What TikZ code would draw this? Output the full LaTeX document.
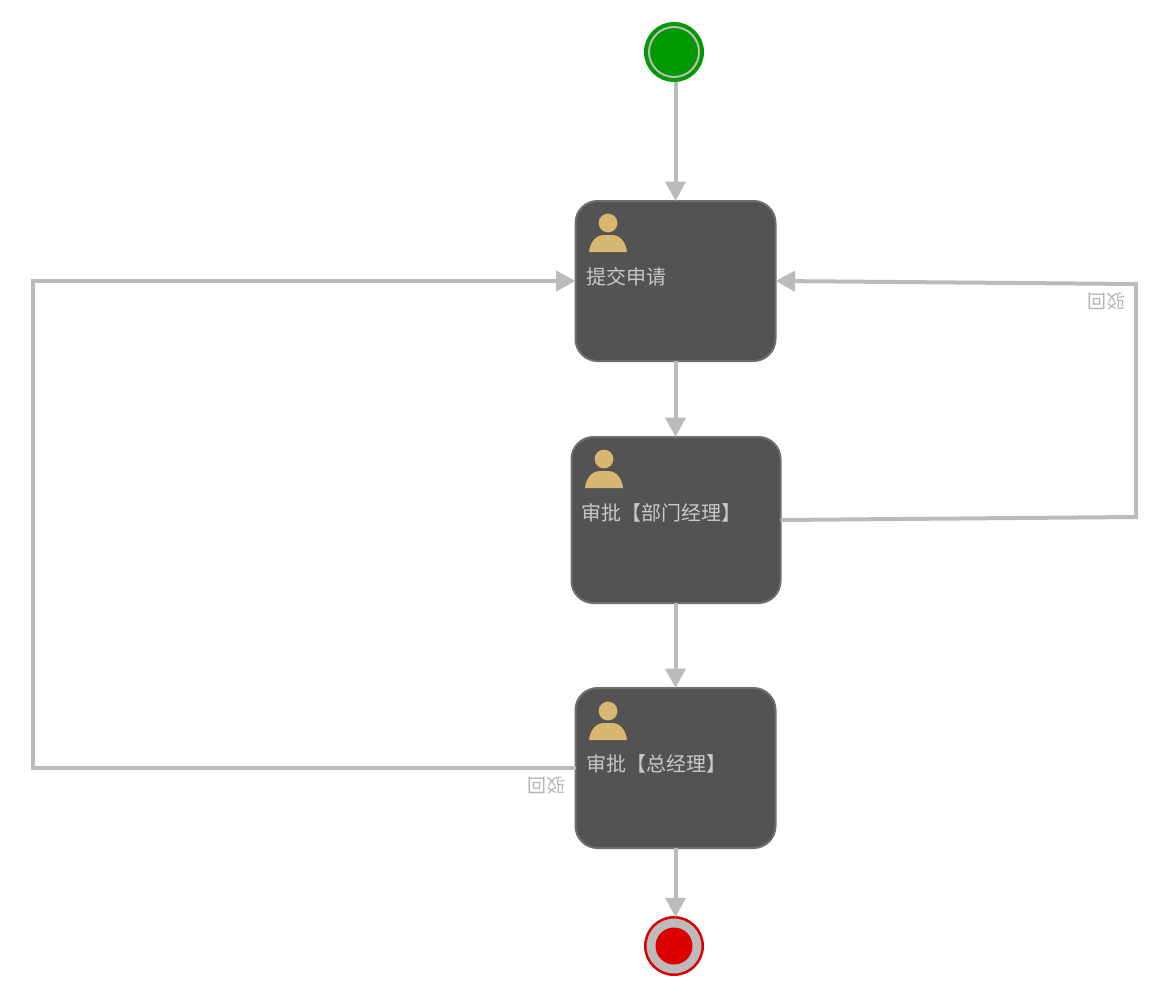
\documentclass[tikz,border=0pt]{standalone}
\usepackage{fontspec}
\usetikzlibrary{arrows.meta,calc}
\newfontfamily\cjk{Noto Sans CJK SC}
\definecolor{flow}{HTML}{BBBBBB}
\definecolor{taskfill}{HTML}{535353}
\definecolor{taskline}{HTML}{6E6E6E}
\definecolor{usergold}{HTML}{D8B870}
\definecolor{labeltext}{HTML}{C8C8C8}
\definecolor{edgelabel}{HTML}{B4B4B4}
\definecolor{startgreen}{HTML}{009900}
\definecolor{endred}{HTML}{DD0000}
\tikzset{
  x=1pt,y=-1pt,
  taskbox/.style={draw=taskline,fill=taskfill,line width=2pt,rounded corners=22pt,inner sep=0pt,outer sep=0pt,minimum width=#1},
  tasktext/.style={anchor=west,text=labeltext,font=\cjk\fontsize{20}{22}\selectfont,inner sep=0pt},
  backtext/.style={text=edgelabel,font=\cjk\fontsize{19}{22}\selectfont,inner sep=0pt,rotate=180},
  conn/.style={draw=flow,line width=4pt},
  connarrow/.style={conn,-{Triangle[length=19.5pt,width=20pt]},shorten >=0pt},
  person/.pic={
    \fill[usergold] (0,-29) circle[radius=9.4];
    \fill[usergold] (-19,0) .. controls (-18,-10) and (-12,-17) .. (-4,-17) -- (4,-17) .. controls (12,-17) and (18,-10) .. (19,0) -- cycle;
  }
}
\begin{document}
\begin{tikzpicture}
\useasboundingbox[fill=white] (0,0) rectangle (1164,998);

\node[taskbox=200pt,minimum height=160pt] (t1) at (675.5,281) {};
\node[taskbox=209pt,minimum height=166pt] (t2) at (676,520) {};
\node[taskbox=200pt,minimum height=160pt] (t3) at (675.5,768) {};

\node[circle,draw=startgreen,fill=startgreen,line width=3.5pt,minimum size=56.5pt,inner sep=0pt] (start) at (674,52) {};
\draw[flow,line width=2pt] (674,52) circle[radius=25];
\node[circle,draw=endred,fill=flow,line width=2.5pt,minimum size=57.5pt,inner sep=0pt,outer sep=0pt] (end) at (674,946) {};
\fill[endred] (674,946) circle[radius=18.5];

\pic at (608,252) {person};
\pic at (604,488) {person};
\pic at (608,740) {person};

\node[tasktext] (l1) at (586,277) {提交申请};
\node[tasktext] (l2) at (581.5,513) {审批【部门经理】};
\node[tasktext] (l3) at (586.5,764) {审批【总经理】};

\coordinate (r1) at (1136,517);
\coordinate (r2) at (1136,284);
\coordinate (q1) at (33,768);
\coordinate (q2) at (33,281);

\draw[connarrow] (t1.north |- start.south) -- (t1.north);
\draw[connarrow] (t1.south) -- (t1.south |- t2.north);
\draw[connarrow] (t1.south |- t2.south) -- (t1.south |- t3.north);
\draw[connarrow] (t3.south) -- (t3.south |- end.north);
\draw[connarrow] (t2.east) -- (r1) -- (r2) -- (t1.east);
\draw[connarrow] (t3.west) -- (q1) -- (q2) -- (t1.west);

\node[backtext] (b1) at (1106,301) {驳回};
\node[backtext] (b2) at (546,785) {驳回};
\end{tikzpicture}
\end{document}
